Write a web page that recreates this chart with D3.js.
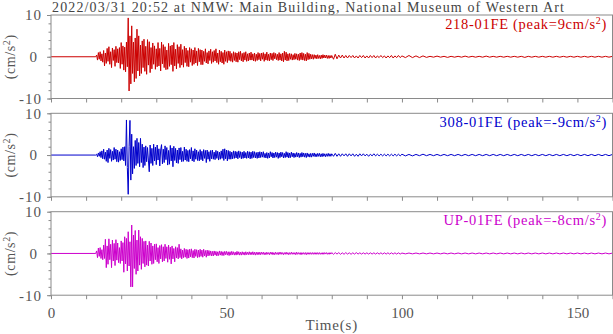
<!DOCTYPE html>
<html><head><meta charset="utf-8">
<script src="https://cdn.jsdelivr.net/npm/d3@7/dist/d3.min.js"></script>
<style>body{margin:0;background:#fff}svg{display:block}</style>
</head><body><svg id="c" width="613" height="334"></svg>
<script>
const title = "2022/03/31 20:52 at NMW: Main Building, National Museum of Western Art";
const channels = ["218-01FE", "308-01FE", "UP-01FE"];
const peaks = ["9", "-9", "-8"];
const colors = ["#cc0000", "#0000cc", "#cc00cc"];
const xTicks = [0,10,20,30,40,50,60,70,80,90,100,110,120,130,140,150,160];
const xTickLabels = [0,50,100,150];
const yMajor = [-10,0,10];
const yMinor = [-10,-8,-6,-4,-2,0,2,4,6,8,10];
const xLabel = "Time(s)";
// sample times: quiet before onset; 0.25 s samples 13-79.75 s; 0.5 s samples 80-99.5 s; 1 s samples 100-160 s
const quietTimes = [0, 12.75];
const timesA = d3.range(13, 79.76, 0.25);
const timesB = d3.range(80, 99.51, 0.5);
const timesC = d3.range(100, 160.01, 1);

// ---- 218-01FE (EW) ----
const ewA = [
 0.4,-0.8,1.0,-0.6,1.2,-1.0,0.7,-1.3,
 1.5,-2.2,0.9,-1.6,2.0,-1.1,2.4,-1.8,
 1.2,-2.6,2.1,-0.9,1.7,-2.3,2.5,-1.4,
 1.9,-1.5,2.2,-2.8,3.4,-1.8,2.6,-3.2,
 2.3,-3.6,3.5,-2.4,9.3,-8.2,5.0,-6.5,
 7.4,-4.0,3.5,-6.0,4.5,-5.2,6.6,-3.4,
 5.0,-4.6,2.8,-4.0,3.8,-2.6,4.2,-3.5,
 2.5,-4.2,4.1,-2.0,3.6,-3.8,2.2,-2.9,
 3.3,-1.8,2.6,-3.0,1.9,-2.4,3.4,-2.2,
 2.0,-3.4,3.5,-1.7,2.9,-2.6,2.4,-3.1,
 1.6,-3.0,3.2,-2.3,2.6,-1.9,2.8,-3.5,
 3.4,-2.2,1.8,-2.9,2.9,-1.6,2.4,-2.6,
 3.0,-2.0,1.7,-2.5,2.5,-1.4,2.1,-2.3,
 1.5,-2.4,2.2,-1.3,1.9,-2.1,1.6,-1.8,
 2.2,-1.5,1.4,-2.1,2.0,-1.2,1.7,-1.9,
 1.6,-1.9,1.3,-1.1,1.9,-1.5,1.0,-1.7,
 1.4,-0.9,1.8,-1.6,1.2,-1.3,1.5,-1.0,
 1.9,-1.4,0.9,-1.8,1.6,-1.2,1.3,-1.5,
 1.0,-1.8,1.6,-1.1,1.2,-1.4,1.4,-0.9,
 1.3,-1.1,0.8,-1.3,1.2,-0.9,1.0,-1.2,
 0.9,-1.3,1.2,-0.7,1.3,-1.0,0.8,-1.2,
 1.0,-0.8,1.2,-1.1,0.7,-1.0,0.9,-0.8,
 1.1,-0.8,0.7,-1.0,0.9,-1.1,0.6,-0.9,
 1.0,-0.7,0.8,-1.0,
 0.9,-0.6,1.0,-1.1,0.7,-0.8,1.1,-0.9,
 0.6,-1.0,0.9,-0.7,0.8,-0.9,1.0,-0.5,
 0.8,-0.7,0.6,-0.9,1.0,-0.8,0.7,-1.0,
 0.9,-1.2,1.3,-0.8,1.1,-1.0,0.7,-0.9,
 0.8,-0.6,0.7,-0.8,0.5,-0.7,0.8,-0.6,
 0.7,-0.8,0.6,-0.9,0.9,-0.7,1.0,-0.8,
 0.8,-0.9,0.6,-1.0,1.0,-0.7,0.8,-0.6,
 0.6,-0.5,0.5,-0.6,0.5,-0.4,0.4,-0.5,
 0.5,-0.4,0.3,-0.5,0.4,-0.4,0.5,-0.3,
 0.4,-0.3,0.4,-0.4,0.3,-0.4,0.3,-0.3];
const ewB = [
 0.3,-0.6,0.6,-0.5,0.4,-0.3,0.4,-0.3,0.3,-0.3,
 0.3,-0.2,0.3,-0.3,0.2,-0.3,0.3,-0.2,0.3,-0.3,
 0.2,-0.3,0.3,-0.2,0.3,-0.3,0.2,-0.2,0.3,-0.2,
 0.2,-0.3,0.2,-0.2,0.3,-0.3,0.2,-0.2,0.3,-0.2];
const ewC = [
 0.2,-0.2,0.3,-0.2,0.2,-0.2,0.2,-0.15,0.1,-0.1,
 0.15,-0.1,0.1,-0.15,0.1,-0.1,0.1,-0.1,0.15,-0.1,
 0.1,-0.1,0.1,-0.1,0.15,-0.1,0.1,-0.1,0.1,-0.1,
 0.1,-0.1,0.1,-0.1,0.1,-0.15,0.1,-0.1,0.1,-0.1,
 0.1,-0.1,0.1,-0.1,0.1,-0.1,0.1,-0.1,0.1,-0.1,
 0.1,-0.1,0.1,-0.1,0.1,-0.1,0.1,-0.1,0.1,-0.1,
 0.1];

// ---- 308-01FE (NS) ----
const nsA = [
 0.2,-0.4,0.5,-0.3,0.8,-0.6,1.0,-0.9,
 1.4,-1.0,0.7,-1.5,1.2,-1.8,1.6,-0.8,
 1.3,-1.5,0.9,-1.2,1.8,-1.0,1.4,-1.6,
 1.2,-1.7,0.8,-1.3,1.5,-1.1,1.9,-1.4,
 2.0,-2.5,8.4,-3.0,-9.4,2.0,8.3,-6.0,
 5.0,-4.5,2.0,-3.2,3.5,-2.5,4.0,-2.0,
 3.0,-2.8,4.0,-1.8,2.6,-3.0,1.9,-2.5,
 2.2,-1.6,1.8,-1.2,-4.0,2.4,-2.0,1.6,
 -2.5,2.6,-1.4,1.9,-2.3,2.4,-1.2,1.5,
 -2.6,1.2,2.5,-2.1,1.4,-1.8,2.2,-1.1,
 1.8,-2.4,1.1,-2.2,2.3,-1.4,1.7,-2.8,
 2.1,-1.3,1.6,-1.9,1.2,-2.0,1.7,-1.1,
 1.8,-1.6,0.9,-1.5,1.9,-1.2,1.4,-1.5,
 1.1,-1.6,1.3,-0.9,1.8,-1.4,1.0,-1.6,
 1.5,-1.0,1.2,-1.3,0.8,-1.4,1.3,-1.1,
 0.9,-1.4,1.3,-0.8,1.1,-1.8,1.2,-1.0,
 0.8,-1.5,1.1,-0.9,1.2,-1.0,0.7,-1.1,
 1.1,-0.8,0.9,-1.2,0.7,-1.0,1.0,-0.8,
 1.4,-1.3,1.5,-0.9,1.2,-1.4,1.1,-1.0,
 0.9,-1.0,0.7,-0.9,1.0,-0.8,0.9,-0.7,
 0.8,-0.9,1.0,-0.6,0.8,-0.9,0.7,-0.8,
 0.9,-0.7,0.6,-0.8,0.9,-0.7,0.8,-0.9,
 0.7,-0.8,0.9,-0.6,0.8,-0.7,0.6,-0.8,
 0.7,-0.7,0.8,-0.6,
 0.7,-0.5,0.8,-0.6,0.4,-0.7,0.6,-0.8,
 0.5,-0.7,0.8,-0.4,0.6,-0.7,0.5,-0.6,
 0.7,-0.5,0.6,-0.8,0.5,-0.6,0.7,-0.4,
 0.6,-0.7,0.4,-0.6,0.8,-0.5,0.6,-0.7,
 0.5,-0.6,0.7,-0.4,0.5,-0.6,0.4,-0.5,
 0.6,-0.4,0.5,-0.6,0.4,-0.5,0.6,-0.4,
 0.5,-0.5,0.4,-0.6,0.5,-0.4,0.3,-0.5,
 0.4,-0.5,0.4,-0.3,0.5,-0.4,0.3,-0.4,
 0.4,-0.3,0.4,-0.4,0.3,-0.4,0.4,-0.3,
 0.3,-0.4,0.3,-0.3,0.4,-0.3,0.3,-0.3];
const nsB = [
 0.3,-0.3,0.4,-0.3,0.3,-0.3,0.3,-0.2,0.3,-0.3,
 0.3,-0.2,0.3,-0.3,0.2,-0.3,0.3,-0.2,0.3,-0.2,
 0.2,-0.3,0.2,-0.2,0.3,-0.2,0.2,-0.2,0.2,-0.2,
 0.2,-0.2,0.2,-0.2,0.2,-0.2,0.2,-0.2,0.2,-0.2];
const nsC = [
 0.2,-0.2,0.15,-0.2,0.15,-0.15,0.2,-0.15,0.15,-0.15,
 0.15,-0.15,0.15,-0.15,0.15,-0.15,0.15,-0.15,0.15,-0.15,
 0.15,-0.15,0.15,-0.15,0.15,-0.15,0.15,-0.15,0.15,-0.15,
 0.15,-0.15,0.15,-0.15,0.15,-0.15,0.15,-0.15,0.15,-0.15,
 0.15,-0.15,0.15,-0.15,0.15,-0.15,0.15,-0.15,0.15,-0.15,
 0.15,-0.15,0.15,-0.15,0.15,-0.15,0.15,-0.15,0.15,-0.15,
 0.15];

// ---- UP-01FE (UD) ----
const udA = [
 0.6,-1.0,1.3,-0.7,1.4,-1.2,0.9,-1.5,
 2.0,-1.2,3.4,-3.4,1.8,-2.6,3.5,-1.5,
 2.2,-3.4,3.2,-1.8,2.4,-2.9,3.3,-1.6,
 2.5,-2.2,1.4,-2.4,3.0,-1.8,2.6,-4.5,
 4.0,-2.5,3.6,-4.2,5.2,-3.0,2.8,-8.0,
 6.8,-8.0,4.4,-3.6,5.5,-5.0,3.2,-4.2,
 5.6,-2.8,4.0,-3.8,3.6,-2.4,2.9,-3.2,
 3.0,-2.8,2.0,-3.0,2.9,-1.8,2.5,-2.6,
 1.8,-2.4,2.2,-1.5,2.3,-2.0,1.4,-2.4,
 1.9,-1.3,2.1,-2.0,1.6,-1.8,2.2,-1.2,
 1.6,-2.1,2.0,-1.4,1.5,-2.5,1.8,-1.3,
 1.2,-2.0,1.6,-1.1,1.4,-1.3,2.2,-1.0,
 1.1,-1.3,0.8,-1.0,1.2,-0.9,1.0,-1.2,
 0.9,-1.1,1.0,-0.8,1.1,-1.0,0.7,-1.1,
 1.0,-0.7,0.9,-1.0,0.8,-0.9,1.0,-0.7,
 0.8,-0.9,1.0,-0.6,0.7,-0.9,0.8,-0.6,
 0.7,-0.5,0.6,-0.6,0.5,-0.6,0.6,-0.4,
 0.5,-0.6,0.4,-0.5,0.6,-0.4,0.5,-0.5,
 0.4,-0.5,0.5,-0.3,0.5,-0.4,0.4,-0.5,
 0.4,-0.4,0.5,-0.3,0.4,-0.4,0.3,-0.4,
 0.5,-0.3,0.4,-0.4,0.3,-0.4,0.4,-0.3,
 0.3,-0.4,0.4,-0.3,0.3,-0.3,0.4,-0.3,
 0.3,-0.3,0.4,-0.3,0.3,-0.4,0.3,-0.3,
 0.3,-0.3,0.3,-0.3,
 0.3,-0.2,0.3,-0.3,0.2,-0.3,0.3,-0.2,
 0.2,-0.3,0.3,-0.2,0.3,-0.3,0.2,-0.3,
 0.3,-0.2,0.2,-0.3,0.3,-0.2,0.3,-0.2,
 0.2,-0.3,0.2,-0.2,0.3,-0.2,0.2,-0.3,
 0.2,-0.2,0.3,-0.2,0.2,-0.2,0.2,-0.3,
 0.3,-0.2,0.2,-0.2,0.2,-0.3,0.2,-0.2,
 0.2,-0.2,0.2,-0.3,0.2,-0.2,0.2,-0.2,
 0.2,-0.2,0.2,-0.2,0.2,-0.2,0.2,-0.2,
 0.2,-0.2,0.2,-0.2,0.15,-0.2,0.2,-0.2,
 0.2,-0.15,0.2,-0.2,0.15,-0.2,0.2,-0.15];
const udB = [
 0.2,-0.2,0.2,-0.15,0.2,-0.2,0.15,-0.2,0.2,-0.15,
 0.15,-0.2,0.15,-0.15,0.2,-0.15,0.15,-0.15,0.15,-0.15,
 0.15,-0.15,0.15,-0.15,0.15,-0.15,0.15,-0.15,0.15,-0.15,
 0.15,-0.15,0.15,-0.15,0.15,-0.15,0.15,-0.15,0.15,-0.15];
const udC = [
 0.1,-0.1,0.1,-0.1,0.1,-0.1,0.1,-0.1,0.1,-0.1,
 0.1,-0.1,0.1,-0.1,0.1,-0.1,0.1,-0.1,0.1,-0.1,
 0.1,-0.1,0.1,-0.1,0.1,-0.1,0.1,-0.1,0.1,-0.1,
 0.1,-0.1,0.1,-0.1,0.1,-0.1,0.1,-0.1,0.1,-0.1,
 0.1,-0.1,0.1,-0.1,0.1,-0.1,0.1,-0.1,0.1,-0.1,
 0.1,-0.1,0.1,-0.1,0.1,-0.1,0.1,-0.1,0.1,-0.1,
 0.1];

const segA = [ewA, nsA, udA], segB = [ewB, nsB, udB], segC = [ewC, nsC, udC];

const svg = d3.select("#c");
const FONT = "'Liberation Serif','Times New Roman',serif";
const AXC = "#8a8a8a", TXC = "#555";
const left = 51, right = 612.5;
const panelTops = [15, 113.3, 211.7], panelH = 83.5;
const x = d3.scaleLinear().domain([0,160]).range([left, right]);

svg.append("text").attr("x", 52).attr("y", 11.5)
  .attr("font-family", FONT).attr("font-size", 14).attr("fill", "#444")
  .attr("textLength", 512).attr("lengthAdjust", "spacing").text(title);

channels.forEach((ch, i) => {
  const top = panelTops[i];
  const y = d3.scaleLinear().domain([-10,10]).range([top + panelH, top]);
  const g = svg.append("g");
  const pts = quietTimes.map(t => ({t, v: 0}))
    .concat(timesA.map((t, k) => ({t, v: segA[i][k]})))
    .concat(timesB.map((t, k) => ({t, v: segB[i][k]})))
    .concat(timesC.map((t, k) => ({t, v: segC[i][k]})));
  g.append("path").datum(pts)
    .attr("fill", "none").attr("stroke", colors[i]).attr("stroke-width", 1)
    .attr("d", d3.line().x(d => x(d.t)).y(d => y(d.v)));
  g.append("rect").attr("x", left).attr("y", top).attr("width", right - left).attr("height", panelH)
    .attr("fill", "none").attr("stroke", AXC).attr("stroke-width", 1);
  const xa = g.append("g").attr("transform", `translate(0,${top + panelH})`)
    .call(d3.axisBottom(x).tickValues(xTicks).tickSize(4)
      .tickFormat(d => (i === 2 && xTickLabels.includes(d)) ? d : ""));
  xa.select(".domain").remove();
  xa.selectAll("line").attr("stroke", AXC);
  xa.selectAll("text").attr("font-family", FONT).attr("font-size", 15).attr("fill", TXC).attr("dy", "1.05em");
  const ym = g.append("g").attr("transform", `translate(${left},0)`)
    .call(d3.axisLeft(y).tickValues(yMinor).tickSize(2.5).tickFormat(""));
  ym.select(".domain").remove();
  ym.selectAll("line").attr("stroke", AXC);
  const ya = g.append("g").attr("transform", `translate(${left},0)`)
    .call(d3.axisLeft(y).tickValues(yMajor).tickSize(4).tickPadding(5).tickFormat(d => d));
  ya.select(".domain").remove();
  ya.selectAll("line").attr("stroke", AXC);
  ya.selectAll("text").attr("font-family", FONT).attr("font-size", 15).attr("fill", TXC)
    .attr("letter-spacing", 1).attr("dx", d => d === 0 ? -4 : 0);
  const yl = g.append("text")
    .attr("transform", `translate(15,${top + panelH / 2}) rotate(-90)`)
    .attr("text-anchor", "middle").attr("font-family", FONT).attr("font-size", 14).attr("fill", TXC)
    .attr("letter-spacing", 0.6);
  yl.append("tspan").text("(cm/s");
  yl.append("tspan").attr("baseline-shift", "super").attr("font-size", 10).text("2");
  yl.append("tspan").text(")");
  const cl = g.append("text").attr("x", 607).attr("y", top + 13.5)
    .attr("text-anchor", "end").attr("font-family", FONT).attr("font-size", 14.5)
    .attr("fill", colors[i]).attr("letter-spacing", 0.7);
  cl.append("tspan").text(`${ch} (peak=${peaks[i]}cm/s`);
  cl.append("tspan").attr("baseline-shift", "super").attr("font-size", 10).text("2");
  cl.append("tspan").text(")");
});

svg.append("text").attr("x", (left + right) / 2).attr("y", 330)
  .attr("text-anchor", "middle").attr("font-family", FONT).attr("font-size", 15)
  .attr("fill", TXC).attr("letter-spacing", 0.8).text(xLabel);
</script></body></html>
